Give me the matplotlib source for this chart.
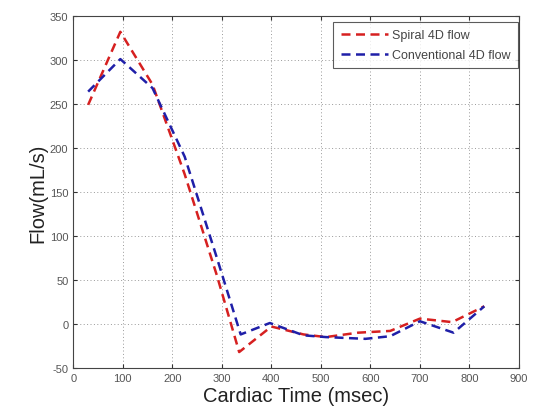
import matplotlib
matplotlib.use("Agg")
import matplotlib.pyplot as plt

# Cardiac-cycle flow curves (time in msec, flow in mL/s)
time_spiral = [30, 95, 160, 225, 290, 335, 400, 465, 510, 575, 640, 700, 765, 830]
flow_spiral = [249, 332, 272, 170, 55, -32, -3, -12, -15, -10, -8, 6, 2, 20]

time_conv = [30, 95, 160, 225, 290, 338, 397, 465, 510, 590, 640, 700, 768, 830]
flow_conv = [264, 301, 268, 190, 75, -12, 1, -13, -15, -17, -14, 3, -10, 20]

series_labels = ["Spiral 4D flow", "Conventional 4D flow"]
x_ticks = [0, 100, 200, 300, 400, 500, 600, 700, 800, 900]
y_ticks = [-50, 0, 50, 100, 150, 200, 250, 300, 350]

plt.rcParams["font.family"] = ["Liberation Sans", "DejaVu Sans"]
plt.rcParams["axes.unicode_minus"] = False

fig = plt.figure(figsize=(5.35, 4.14), dpi=100)
ax = fig.add_axes([0.137, 0.109, 0.833, 0.850])

ax.plot(time_spiral, flow_spiral, color="#d62020", ls=(0, (3.6, 2.2)), lw=1.8,
        label=series_labels[0])
ax.plot(time_conv, flow_conv, color="#1f1fa8", ls=(0, (3.6, 2.2)), lw=1.8,
        label=series_labels[1])

ax.set_xlim(0, 900)
ax.set_ylim(-50, 350)
ax.set_xticks(x_ticks)
ax.set_yticks(y_ticks)
ax.tick_params(direction="in", length=3, labelsize=8, colors="#333333",
               top=True, right=True)
for lab in ax.get_xticklabels() + ax.get_yticklabels():
    lab.set_color("#555555")
ax.grid(True, ls=(0, (1, 2.5)), color="#999999", lw=0.7)
for sp in ax.spines.values():
    sp.set_color("#444444")
    sp.set_linewidth(0.8)

ax.set_xlabel("Cardiac Time (msec)", fontsize=14.5, color="#222222", labelpad=2)
ax.set_ylabel("Flow(mL/s)", fontsize=14.5, color="#222222", labelpad=2)

leg = ax.legend(loc="upper right", bbox_to_anchor=(0.998, 0.983),
                fontsize=9, frameon=True, fancybox=False,
                edgecolor="#333333", handlelength=3.8, handletextpad=0.3,
                borderaxespad=0, labelspacing=0.6, borderpad=0.6)
leg.get_frame().set_linewidth(0.8)
for t in leg.get_texts():
    t.set_color("#444444")

fig.savefig("out.png", dpi=100)
